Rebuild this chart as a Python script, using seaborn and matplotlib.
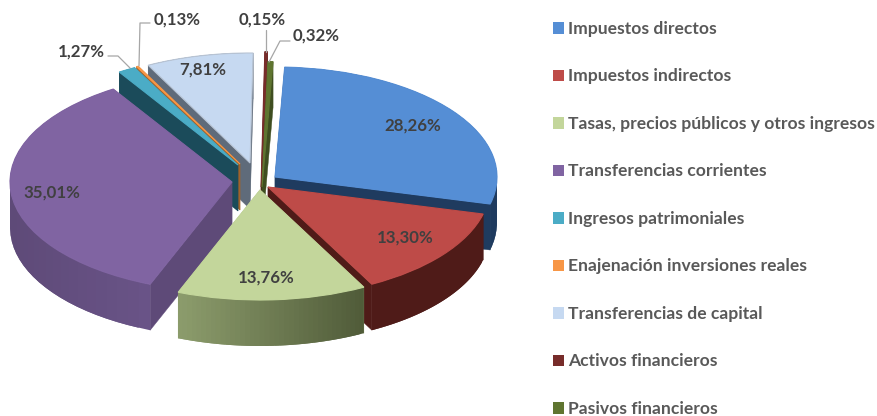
#!/usr/bin/env python3
"""Exploded 3D look pie of income by chapter, drawn on a pixel sized axes"""
import numpy as np
import matplotlib
matplotlib.use("Agg")
import matplotlib.pyplot as plt
from matplotlib.patches import Patch
from matplotlib.transforms import Affine2D
import seaborn as sns

labels = ["Impuestos directos", "Impuestos indirectos",
          "Tasas, precios públicos y otros ingresos",
          "Transferencias corrientes", "Ingresos patrimoniales",
          "Enajenación inversiones reales", "Transferencias de capital",
          "Activos financieros", "Pasivos financieros"]
values = [28.26, 13.30, 13.76, 35.01, 1.27, 0.13, 7.81, 0.15, 0.32]

# styles
top_colors = ["#558ED5", "#BE4B48", "#C3D69B", "#8064A2", "#4BACC6",
              "#F79646", "#C6D9F1", "#772C2A", "#5F7530"]
side_left = ["#1F3B5F", "#4F1B18", "#8C9C6C", "#5E4A78", "#1B4B5A",
             "#A0622A", "#5F6B7A", "#4F1B18", "#3F4E20"]
side_right = ["#1F3B5F", "#4F1B18", "#4F5A38", "#6A5488", "#1B4B5A",
              "#A0622A", "#5F6B7A", "#4F1B18", "#3F4E20"]
apex_x = [275, 268, 260, 232, 238, 240, 250, 261, 262]
apex_y = [177, 187, 190, 182, 165, 164, 163, 187, 187]
radius_scale = [1, 1, 1, 1, 1, 1, 1, 1.23, 1.14]
draw_order = [6, 5, 4, 3, 7, 8, 0, 1, 2]
label_pos = [(413, 126), (405, 238), (266, 278), (52, 193), (81, 52),
             (177, 20), (203, 70), (262, 20), (316, 36)]
leaders = [None, None, None, None,
           [(108, 56), (118, 56), (130, 68)],
           [(150, 23), (140, 23), (139, 66)],
           None,
           [(266, 30), (266, 52)],
           [(290, 41), (280, 41), (269, 62)]]

RX, RY, DEPTH = 222, 110, 46
START = 2.5

sns.set_theme(style="white")
plt.rcParams["font.family"] = ["Lato", "DejaVu Sans"]

fig = plt.figure(figsize=(8.78, 4.16), dpi=100)
ax = fig.add_axes([0, 0, 1, 1])

# top faces come from the pie itself, squashed and moved afterwards
wedges, _ = ax.pie(values, startangle=90 - START, counterclock=False,
                   colors=sns.color_palette(top_colors), normalize=True)

ax.set_aspect("auto")
ax.set_xlim(0, 878)
ax.set_ylim(416, 0)
ax.axis("off")

edges = START + np.cumsum([0] + values) * 360 / sum(values)


def rim(i, deg):
    rad = np.radians(deg)
    return (apex_x[i] + RX * radius_scale[i] * np.sin(rad),
            apex_y[i] - RY * radius_scale[i] * np.cos(rad))


for z, i in enumerate(draw_order):
    base = 10 + z * 3
    cx, cy = apex_x[i], apex_y[i]
    a0, a1 = edges[i], edges[i + 1]

    # cut faces
    for deg in (a1, a0):
        px, py = rim(i, deg)
        ax.fill([cx, px, px, cx], [cy, py, py + DEPTH, cy + DEPTH],
                color=side_left[i], lw=0.3, zorder=base)

    # outer side, split up so it can carry a gradient
    # every piece reaches over the next one to hide the seams
    steps = np.linspace(a0, a1, 40)
    xs = [rim(i, d)[0] for d in steps]
    lo, hi = min(xs), max(xs)
    c_l = np.array(matplotlib.colors.to_rgb(side_left[i]))
    c_r = np.array(matplotlib.colors.to_rgb(side_right[i]))
    for k in range(len(steps) - 1):
        x0, y0 = rim(i, steps[k])
        x1, y1 = rim(i, steps[min(k + 2, len(steps) - 1)])
        t = ((x0 + x1) / 2 - lo) / max(hi - lo, 1)
        ax.fill([x0, x1, x1, x0], [y0, y1, y1 + DEPTH, y0 + DEPTH],
                color=c_l + (c_r - c_l) * t, lw=0, zorder=base + 1)

    w = wedges[i]
    w.set_transform(Affine2D().scale(RX * radius_scale[i],
                                     -RY * radius_scale[i]).translate(cx, cy)
                    + ax.transData)
    w.set_zorder(base + 2)
    w.set_edgecolor("#B8C4D4" if i == 6 else top_colors[i])
    w.set_linewidth(0.8)

# data labels
for i, v in enumerate(values):
    x, y = label_pos[i]
    ax.text(x, y, f"{v:.2f}%".replace(".", ","), ha="center", va="center",
            fontsize=12.2, fontweight="bold", color="#404040", zorder=60)
    if leaders[i] is not None:
        lx, ly = zip(*leaders[i])
        ax.plot(lx, ly, color="#A6A6A6", lw=0.9, zorder=59)

handles = [Patch(facecolor=c, edgecolor="none") for c in top_colors]
leg = ax.legend(handles, labels, loc="upper left",
                bbox_to_anchor=(553 / 878, 1 - 21 / 416), frameon=False,
                labelspacing=1.80, handlelength=0.62,
                handleheight=0.62, handletextpad=0.22, borderpad=0,
                borderaxespad=0, labelcolor="#595959",
                prop={"weight": "bold", "size": 12.6})

fig.savefig("out.png", dpi=100)
